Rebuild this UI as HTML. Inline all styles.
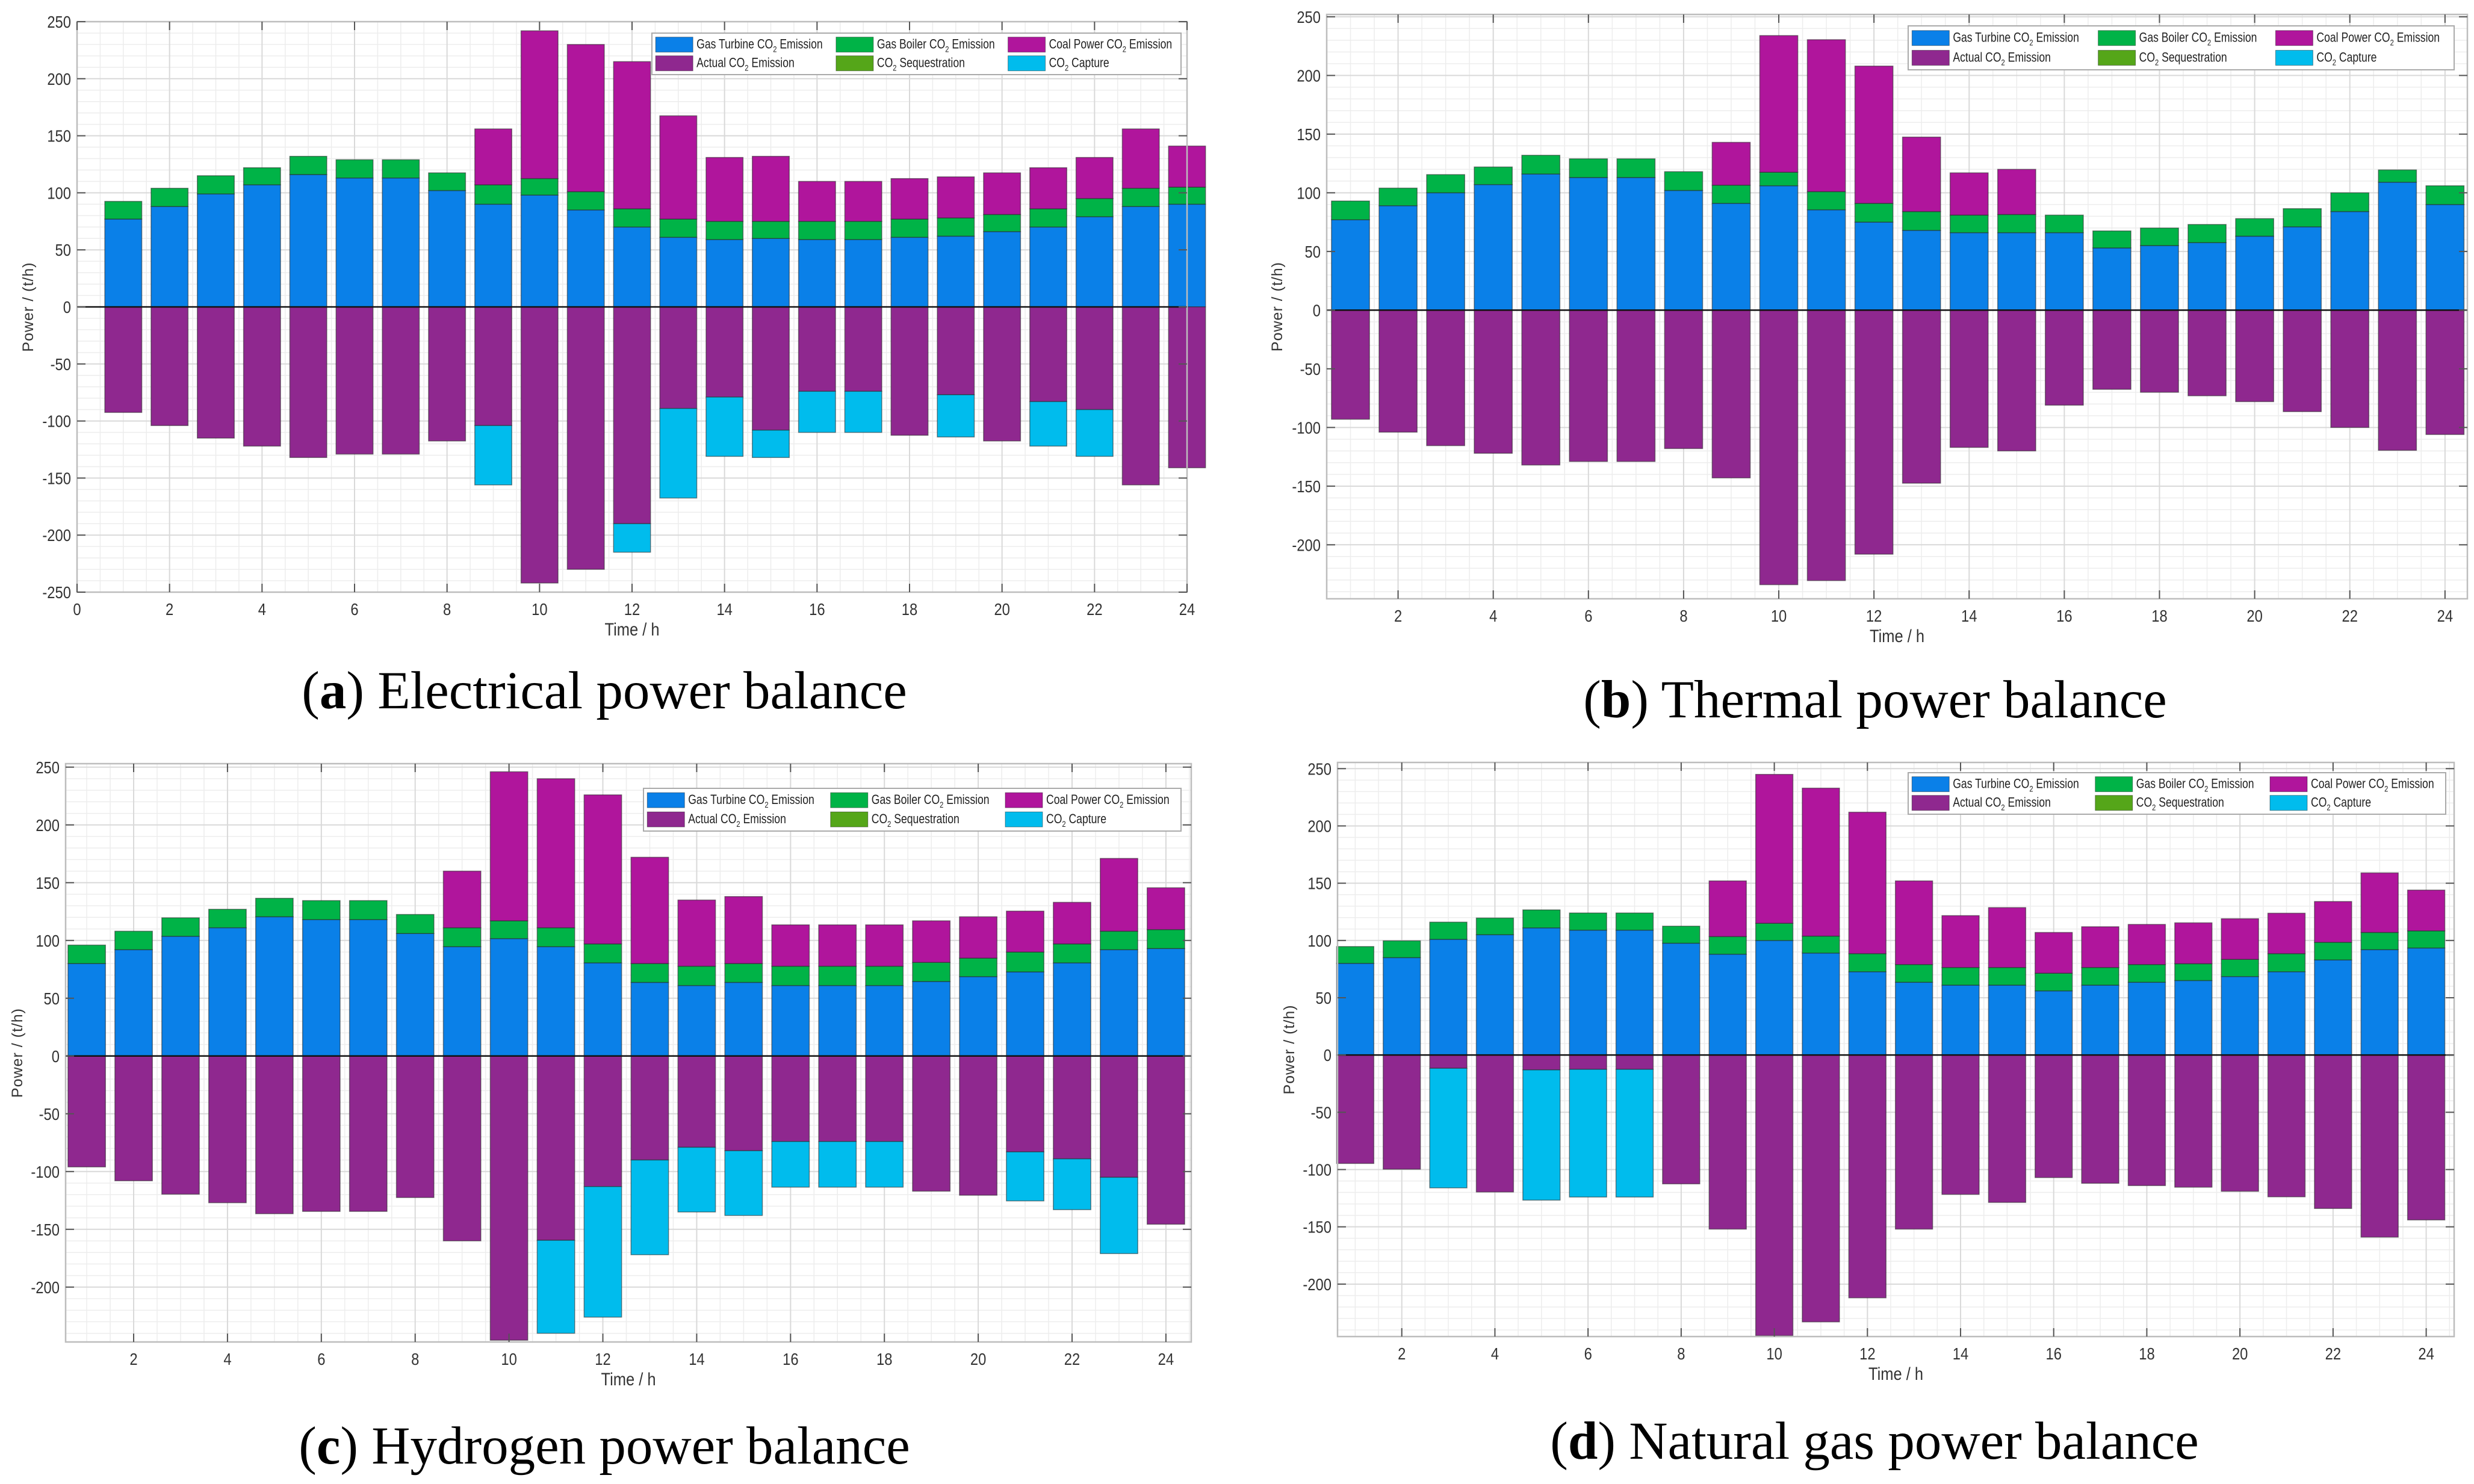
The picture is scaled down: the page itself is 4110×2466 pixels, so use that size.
<!DOCTYPE html>
<html><head><meta charset="utf-8"><title>CO2 power balance</title>
<style>html,body{margin:0;padding:0;background:#fff}svg{display:block}</style></head>
<body>
<svg id="fig" xmlns="http://www.w3.org/2000/svg" width="4110" height="2466" viewBox="0 0 4110 2466"></svg>
<script>
const hours = [1,2,3,4,5,6,7,8,9,10,11,12,13,14,15,16,17,18,19,20,21,22,23,24];
// Panel (a) Electrical
const gtA   = [77,88,99,107,116,113,113,102,90,98,85,70,61,59,60,59,59,61,62,66,70,79,88,90];
const gbA   = [15.5,16,16,15,16,16,16,15.5,17,14.5,16,16,16,16,15,16,16,16,16,15,16,16,16,15];
const coalA = [0,0,0,0,0,0,0,0,49,129.5,129,129,90.5,56,57,35,35,35.5,36,36.5,36,36,52,36];
const capA  = [0,0,0,0,0,0,0,0,52,0,0,25,78.5,52,24,36,36,0,37,0,39,41,0,0];
const seqA  = [0,0,0,0,0,0,0,0,0,0,0,0,0,0,0,0,0,0,0,0,0,0,0,0];
// Panel (b) Thermal
const gtB   = [77,89,100,107,116,113,113,102,91,106,85.5,75,68,66,66,66,53,55,57.5,63,71,84,109,90];
const gbB   = [16,15,15.5,15,16,16,16,16,15.5,11.5,15.5,16,16,15,15.5,15,14.5,15,15.5,15,15.5,16,10.5,16];
const coalB = [0,0,0,0,0,0,0,0,36.5,116.5,129.5,117,63.5,36,38.5,0,0,0,0,0,0,0,0,0];
const capB  = [0,0,0,0,0,0,0,0,0,0,0,0,0,0,0,0,0,0,0,0,0,0,0,0];
const seqB  = [0,0,0,0,0,0,0,0,0,0,0,0,0,0,0,0,0,0,0,0,0,0,0,0];
// Panel (c) Hydrogen
const gtC   = [80,92,103.6,111,120.5,118,118,106,94.6,101.6,94.6,80.6,63.7,61,63.7,61,61,61,64.5,68.7,72.8,80.6,92,93];
const gbC   = [16,16,16,16,16,16.5,16.5,16.5,16.4,15.4,16.4,16.4,16.3,16.7,16.3,16.7,16.7,16.7,16.5,16,17.2,16.4,16,16.4];
const coalC = [0,0,0,0,0,0,0,0,49,129,129,129,92,57.3,58,35.8,35.8,35.8,36,35.8,35.4,36,63,36.2];
const capC  = [0,0,0,0,0,0,0,0,0,0,80.5,113,82,56,56,39.5,39.5,39.5,0,0,42.4,44,66,0];
const seqC  = [0,0,0,0,0,0,0,0,0,0,0,0,0,0,0,0,0,0,0,0,0,0,0,0];
// Panel (d) Natural gas
const gtD   = [80,85,101,105,111,109,109,97.6,88,100,89,72.7,63.5,61,61,56,61,63.5,65,68.5,72.7,83,92,93.4];
const gbD   = [14.7,14.7,15,14.6,15.7,15,15,14.9,15.4,15,14.8,15.8,15.5,15.4,15.4,15.4,15.4,15.5,14.7,15,15.8,15.4,15,15];
const coalD = [0,0,0,0,0,0,0,0,48.6,130,129.2,123.5,73,45.3,52.3,35.6,35.6,35,35.7,35.5,35.3,35.6,52,35.6];
const capD  = [0,0,104.4,0,113.7,111.5,111.5,0,0,0,0,0,0,0,0,0,0,0,0,0,0,0,0,0];
const seqD  = [0,0,0,0,0,0,0,0,0,0,0,0,0,0,0,0,0,0,0,0,0,0,0,0];
const xTicksA = [0,2,4,6,8,10,12,14,16,18,20,22,24];
const xTicksB = [2,4,6,8,10,12,14,16,18,20,22,24];
const yTicksA = [-250,-200,-150,-100,-50,0,50,100,150,200,250];
const yTicksB = [-200,-150,-100,-50,0,50,100,150,200,250];
const legendLabels = [["Gas Turbine CO","2"," Emission"],["Gas Boiler CO","2"," Emission"],["Coal Power CO","2"," Emission"],["Actual CO","2"," Emission"],["CO","2"," Sequestration"],["CO","2"," Capture"]];

const C = {gt:"#0a80e8", gb:"#00b347", coal:"#b0159c", act:"#8f288f", seq:"#55a619", cap:"#00bced"};
const legendColors = [C.gt,C.gb,C.coal,C.act,C.seq,C.cap];
const NS = "http://www.w3.org/2000/svg";
const svg = document.getElementById('fig');
function mk(tag, attrs, parent){const e=document.createElementNS(NS,tag);for(const k in attrs)e.setAttribute(k,attrs[k]);(parent||svg).appendChild(e);return e;}

const panels = [
 {key:'a', gt:gtA, gb:gbA, coal:coalA, cap:capA, seq:seqA, box:{l:128,r:1972,t:36,b:984}, xlim:[0,24], ylim:[-250,250], xt:xTicksA, yt:yTicksA,
  leg:{x1:1083,y1:55,x2:1962,y2:124}, ylab:46, cap_:{x:1004,y:1177,l:'a',t:' Electrical power balance'}},
 {key:'b', gt:gtB, gb:gbB, coal:coalB, cap:capB, seq:seqB, box:{l:2204,r:4099,t:24,b:995}, xlim:[0.5,24.47], ylim:[-246,252], xt:xTicksB, yt:yTicksB,
  leg:{x1:3170,y1:43,x2:4077,y2:116}, ylab:2121, cap_:{x:3115,y:1192,l:'b',t:' Thermal power balance'}},
 {key:'c', gt:gtC, gb:gbC, coal:coalC, cap:capC, seq:seqC, box:{l:109,r:1979,t:1269,b:2230}, xlim:[0.55,24.54], ylim:[-247.5,253], xt:xTicksB, yt:yTicksB,
  leg:{x1:1069,y1:1310,x2:1962,y2:1381}, ylab:28, cap_:{x:1004,y:2432,l:'c',t:' Hydrogen power balance'}},
 {key:'d', gt:gtD, gb:gbD, coal:coalD, cap:capD, seq:seqD, box:{l:2222,r:4077,t:1267,b:2221}, xlim:[0.62,24.6], ylim:[-245.8,255.4], xt:xTicksB, yt:yTicksB,
  leg:{x1:3170,y1:1284,x2:4063,y2:1353}, ylab:2141, cap_:{x:3114,y:2424,l:'d',t:' Natural gas power balance'}}
];

panels.forEach(p=>{
  const B=p.box;
  const X=v=>B.l+(v-p.xlim[0])/(p.xlim[1]-p.xlim[0])*(B.r-B.l);
  const Y=v=>B.t+(p.ylim[1]-v)/(p.ylim[1]-p.ylim[0])*(B.b-B.t);
  const g=mk('g',{});
  
  
  mk('rect',{x:B.l,y:B.t,width:B.r-B.l,height:B.b-B.t,fill:'#fff'},g);
  const grid=mk('g',{stroke:'#ededed','stroke-width':1.5},g);
  
  
  for(let v=Math.ceil(p.xlim[0]*2)/2; v<=p.xlim[1]; v+=0.5){mk('line',{x1:X(v),x2:X(v),y1:B.t,y2:B.b},grid);}
  for(let v=Math.ceil(p.ylim[0]/10)*10; v<=p.ylim[1]; v+=10){mk('line',{x1:B.l,x2:B.r,y1:Y(v),y2:Y(v)},grid);}
  const mg=mk('g',{stroke:'#d9d9d9','stroke-width':2},g);
  p.xt.forEach(v=>mk('line',{x1:X(v),x2:X(v),y1:B.t,y2:B.b},mg));
  p.yt.forEach(v=>mk('line',{x1:B.l,x2:B.r,y1:Y(v),y2:Y(v)},mg));
  const bw=0.8;
  const bars=mk('g',{stroke:'rgba(40,40,40,0.55)','stroke-width':1.5},g);
  hours.forEach((h,i)=>{
    const x0=X(h-bw/2), w=X(h+bw/2)-X(h-bw/2);
    const segs=[];
    let base=0;
    [['gt',p.gt[i]],['gb',p.gb[i]],['coal',p.coal[i]]].forEach(([k,v])=>{ if(v>0){segs.push([k,base,base+v]);} base+=v; });
    const total=base;
    const act=total-p.cap[i]-p.seq[i];
    segs.push(['act',-act,0]);
    if(p.seq[i]>0) segs.push(['seq',-act-p.seq[i],-act]);
    if(p.cap[i]>0) segs.push(['cap',-total,-total+p.cap[i]]);
    segs.forEach(([k,lo,hi])=>{
      const y1=Math.max(Y(hi),B.t), y2=Math.min(Y(lo),B.b);
      const r=mk('rect',{x:x0,y:y1,width:w,height:Math.max(0,y2-y1),fill:C[k]},bars);
      
      
    });
  });
  mk('line',{x1:B.l,x2:B.r,y1:Y(0),y2:Y(0),stroke:'#111','stroke-width':2.5},g);
  mk('rect',{x:B.l,y:B.t,width:B.r-B.l,height:B.b-B.t,fill:'none',stroke:'#bdbdbd','stroke-width':2.5},g);
  const tk=mk('g',{stroke:'#555','stroke-width':2},g);
  p.xt.forEach(v=>{mk('line',{x1:X(v),x2:X(v),y1:B.b,y2:B.b-14},tk);mk('line',{x1:X(v),x2:X(v),y1:B.t,y2:B.t+14},tk);});
  p.yt.forEach(v=>{mk('line',{x1:B.l,x2:B.l+14,y1:Y(v),y2:Y(v)},tk);mk('line',{x1:B.r,x2:B.r-14,y1:Y(v),y2:Y(v)},tk);});
  const font='"Liberation Sans", sans-serif';
  p.xt.forEach(v=>{
    const t=mk('text',{transform:`translate(${X(v)},${B.b+38}) scale(0.85,1)`,'text-anchor':'middle','font-family':font,'font-size':28,fill:'#333'},g);
    t.textContent=v;
    
    
  });
  p.yt.forEach(v=>{
    const t=mk('text',{transform:`translate(${B.l-10},${Y(v)+10}) scale(0.85,1)`,'text-anchor':'end','font-family':font,'font-size':28,fill:'#333'},g);
    t.textContent=v;
    
    
  });
  const xl=mk('text',{transform:`translate(${(B.l+B.r)/2},${B.b+72}) scale(0.85,1)`,'text-anchor':'middle','font-family':font,'font-size':30,fill:'#333'},g);
  xl.textContent='Time / h';
  
  
  const yl=mk('text',{transform:`translate(${p.ylab+9},${(B.t+B.b)/2}) rotate(-90)`,'text-anchor':'middle','font-family':font,'font-size':25,fill:'#333','letter-spacing':1},g);
  yl.textContent='Power / (t/h)';
  
  
  const L=p.leg;
  const lg=mk('g',{},g);
  
  
  mk('rect',{x:L.x1,y:L.y1,width:L.x2-L.x1,height:L.y2-L.y1,fill:'#fff',stroke:'#aaa','stroke-width':2},lg);
  const W=L.x2-L.x1, H=L.y2-L.y1;
  const colX=[0.007,0.348,0.673];
  legendLabels.forEach((lab,j)=>{
    const cx=L.x1+colX[j%3]*W, cy=L.y1+(j<3?0.27:0.72)*H;
    const e=mk('g',{},lg);
    
    
    mk('rect',{x:cx,y:cy-12,width:62,height:25,fill:legendColors[j],stroke:'rgba(0,0,0,0.4)','stroke-width':1},e);
    const t=mk('text',{transform:`translate(${cx+68},${cy+7}) scale(0.8,1)`,'font-family':font,'font-size':22,fill:'#222'},e);
    const s1=mk('tspan',{},t); s1.textContent=lab[0];
    const s2=mk('tspan',{'font-size':14,dy:6},t); s2.textContent=lab[1];
    const s3=mk('tspan',{dy:-6},t); s3.textContent=lab[2];
  });
  const cp=mk('text',{x:p.cap_.x,y:p.cap_.y,'text-anchor':'middle','font-family':'"Liberation Serif", serif','font-size':89,fill:'#000'},svg);
  
  
  const a1=mk('tspan',{},cp); a1.textContent='(';
  const a2=mk('tspan',{'font-weight':'bold'},cp); a2.textContent=p.cap_.l;
  const a3=mk('tspan',{},cp); a3.textContent=')'+p.cap_.t;
});
</script>
</body></html>
